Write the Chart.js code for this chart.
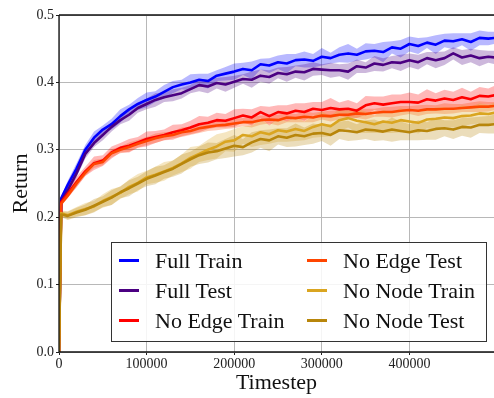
<!DOCTYPE html>
<html>
<head>
<meta charset="utf-8">
<script src="https://cdn.jsdelivr.net/npm/chart.js@4.4.0/dist/chart.umd.min.js"></script>
<style>
  html, body { margin: 0; padding: 0; background: #fff; }
  #wrap { position: relative; width: 494px; height: 398px; }
  #legend { position: absolute; left: 111px; top: 242px; width: 374px; height: 98px;
            border: 1px solid #333; background: rgba(255,255,255,0.85);
            font-family: "Liberation Serif", "Times New Roman", serif; font-size: 22px; color: #111; }
  .item { position: absolute; height: 26px; line-height: 26px; white-space: nowrap; }
  .swatch { position: absolute; top: 11px; width: 20px; height: 3px; }
  .lbl { position: absolute; top: 0; }
</style>
</head>
<body>
<div id="wrap">
  <canvas id="c" width="494" height="398"></canvas>
  <div id="legend"></div>
</div>
<script>
// ---------------- data ----------------
const timesteps = [0, 2500, 10000, 20000, 30000, 40000, 50000, 60000, 70000, 80000, 90000,
  100000, 110000, 120000, 130000, 140000, 150000, 160000, 170000, 180000, 190000,
  200000, 210000, 220000, 230000, 240000, 250000, 260000, 270000, 280000, 290000,
  300000, 310000, 320000, 330000, 340000, 350000, 360000, 370000, 380000, 390000,
  400000, 410000, 420000, 430000, 440000, 450000, 460000, 470000, 480000, 490000, 497000];

const seriesNames = ["Full Train", "Full Test", "No Edge Train", "No Edge Test", "No Node Train", "No Node Test"];
const seriesColors = ["#0000FF", "#4B0082", "#FF0000", "#FF4500", "#DAA520", "#B8860B"];

const fullTrain = [0, 0.228, 0.248, 0.272, 0.300, 0.318, 0.330, 0.338, 0.350, 0.360, 0.368,
  0.374, 0.379, 0.386, 0.393, 0.397, 0.400, 0.404, 0.402, 0.410, 0.413,
  0.416, 0.420, 0.418, 0.427, 0.425, 0.430, 0.428, 0.433, 0.434, 0.432,
  0.438, 0.436, 0.441, 0.443, 0.441, 0.446, 0.447, 0.445, 0.452, 0.450,
  0.457, 0.454, 0.459, 0.456, 0.462, 0.461, 0.464, 0.460, 0.466, 0.465, 0.466];
const fullTest = [0, 0.224, 0.240, 0.265, 0.294, 0.310, 0.322, 0.334, 0.344, 0.352, 0.362,
  0.368, 0.374, 0.378, 0.381, 0.384, 0.390, 0.396, 0.394, 0.399, 0.397,
  0.401, 0.405, 0.404, 0.410, 0.408, 0.414, 0.412, 0.416, 0.415, 0.420,
  0.419, 0.418, 0.418, 0.416, 0.424, 0.422, 0.428, 0.426, 0.430, 0.429,
  0.433, 0.430, 0.436, 0.433, 0.436, 0.443, 0.437, 0.440, 0.436, 0.438, 0.437];
const noEdgeTrain = [0, 0.222, 0.235, 0.252, 0.268, 0.280, 0.284, 0.296, 0.303, 0.306, 0.311,
  0.316, 0.319, 0.322, 0.326, 0.329, 0.333, 0.338, 0.340, 0.344, 0.343,
  0.347, 0.351, 0.348, 0.356, 0.350, 0.356, 0.354, 0.358, 0.356, 0.361,
  0.359, 0.362, 0.360, 0.361, 0.358, 0.366, 0.369, 0.367, 0.369, 0.371,
  0.371, 0.370, 0.375, 0.373, 0.376, 0.374, 0.378, 0.375, 0.380, 0.379, 0.381];
const noEdgeTest = [0, 0.220, 0.232, 0.250, 0.266, 0.279, 0.282, 0.295, 0.300, 0.304, 0.309,
  0.313, 0.317, 0.320, 0.322, 0.326, 0.328, 0.332, 0.334, 0.336, 0.337,
  0.339, 0.341, 0.341, 0.344, 0.345, 0.344, 0.348, 0.347, 0.349, 0.348,
  0.351, 0.350, 0.352, 0.352, 0.354, 0.353, 0.355, 0.356, 0.356, 0.358,
  0.359, 0.358, 0.360, 0.360, 0.361, 0.361, 0.362, 0.363, 0.364, 0.364, 0.365];
const noNodeTrain = [0, 0.206, 0.203, 0.208, 0.212, 0.216, 0.224, 0.230, 0.236, 0.245, 0.251,
  0.259, 0.263, 0.268, 0.273, 0.280, 0.288, 0.294, 0.300, 0.305, 0.312,
  0.314, 0.322, 0.320, 0.326, 0.323, 0.329, 0.327, 0.331, 0.328, 0.334,
  0.338, 0.335, 0.344, 0.347, 0.343, 0.341, 0.338, 0.342, 0.340, 0.344,
  0.342, 0.340, 0.345, 0.346, 0.348, 0.347, 0.350, 0.351, 0.354, 0.353, 0.355];
const noNodeTest = [0, 0.204, 0.202, 0.207, 0.211, 0.217, 0.223, 0.229, 0.237, 0.243, 0.250,
  0.257, 0.262, 0.267, 0.272, 0.279, 0.286, 0.292, 0.296, 0.298, 0.302,
  0.306, 0.304, 0.311, 0.316, 0.314, 0.320, 0.318, 0.322, 0.320, 0.324,
  0.325, 0.322, 0.329, 0.328, 0.326, 0.330, 0.329, 0.327, 0.330, 0.328,
  0.326, 0.329, 0.328, 0.331, 0.332, 0.330, 0.334, 0.333, 0.337, 0.337, 0.338];

// half-width of the shaded bands
const fullTrainSpread = [0, 0.003, 0.006, 0.008, 0.007, 0.009, 0.006, 0.008, 0.010, 0.007, 0.009,
  0.011, 0.008, 0.010, 0.009, 0.007, 0.012, 0.009, 0.011, 0.008, 0.010,
  0.012, 0.009, 0.013, 0.008, 0.011, 0.010, 0.014, 0.009, 0.012, 0.010,
  0.013, 0.008, 0.011, 0.014, 0.009, 0.012, 0.010, 0.015, 0.009, 0.013,
  0.011, 0.012, 0.008, 0.014, 0.010, 0.012, 0.009, 0.013, 0.011, 0.010, 0.009];
const fullTestSpread = [0, 0.003, 0.005, 0.006, 0.007, 0.006, 0.008, 0.007, 0.006, 0.009, 0.007,
  0.008, 0.010, 0.007, 0.009, 0.008, 0.006, 0.009, 0.010, 0.008, 0.011,
  0.009, 0.007, 0.012, 0.009, 0.010, 0.008, 0.011, 0.009, 0.012, 0.010,
  0.008, 0.011, 0.009, 0.012, 0.010, 0.008, 0.011, 0.010, 0.009, 0.012,
  0.010, 0.011, 0.009, 0.012, 0.010, 0.009, 0.011, 0.010, 0.012, 0.009, 0.010];
const noEdgeTrainSpread = [0, 0.004, 0.006, 0.008, 0.007, 0.010, 0.008, 0.009, 0.007, 0.010, 0.008,
  0.011, 0.009, 0.008, 0.011, 0.009, 0.010, 0.012, 0.009, 0.011, 0.010,
  0.013, 0.010, 0.012, 0.009, 0.014, 0.010, 0.012, 0.011, 0.013, 0.010,
  0.012, 0.015, 0.010, 0.013, 0.011, 0.014, 0.010, 0.012, 0.013, 0.011,
  0.014, 0.012, 0.015, 0.011, 0.013, 0.012, 0.014, 0.011, 0.013, 0.012, 0.014];
const noEdgeTestSpread = [0, 0.003, 0.004, 0.005, 0.005, 0.006, 0.005, 0.006, 0.005, 0.007, 0.006,
  0.006, 0.007, 0.006, 0.005, 0.007, 0.006, 0.007, 0.006, 0.007, 0.006,
  0.007, 0.006, 0.008, 0.007, 0.006, 0.008, 0.007, 0.006, 0.008, 0.007,
  0.006, 0.008, 0.007, 0.006, 0.007, 0.008, 0.006, 0.007, 0.008, 0.007,
  0.006, 0.008, 0.007, 0.006, 0.008, 0.007, 0.006, 0.007, 0.008, 0.007, 0.006];
const noNodeTrainSpread = [0, 0.004, 0.006, 0.007, 0.009, 0.008, 0.010, 0.012, 0.009, 0.011, 0.013,
  0.010, 0.012, 0.014, 0.011, 0.013, 0.016, 0.012, 0.015, 0.018, 0.014,
  0.017, 0.013, 0.016, 0.019, 0.014, 0.017, 0.015, 0.018, 0.014, 0.016,
  0.019, 0.015, 0.017, 0.014, 0.018, 0.016, 0.013, 0.017, 0.015, 0.018,
  0.014, 0.016, 0.013, 0.017, 0.015, 0.014, 0.016, 0.013, 0.015, 0.014, 0.015];
const noNodeTestSpread = [0, 0.004, 0.006, 0.007, 0.008, 0.010, 0.008, 0.011, 0.009, 0.012, 0.010,
  0.011, 0.013, 0.010, 0.012, 0.014, 0.011, 0.013, 0.015, 0.012, 0.014,
  0.016, 0.012, 0.015, 0.013, 0.016, 0.012, 0.014, 0.017, 0.013, 0.015,
  0.012, 0.016, 0.013, 0.015, 0.012, 0.014, 0.016, 0.013, 0.018, 0.014,
  0.012, 0.015, 0.013, 0.016, 0.012, 0.014, 0.013, 0.015, 0.012, 0.013, 0.014];

const xTicks = [0, 100000, 200000, 300000, 400000];
const yTicks = [0.0, 0.1, 0.2, 0.3, 0.4, 0.5];

const seriesValues = [fullTrain, fullTest, noEdgeTrain, noEdgeTest, noNodeTrain, noNodeTest];
const seriesSpreads = [fullTrainSpread, fullTestSpread, noEdgeTrainSpread, noEdgeTestSpread, noNodeTrainSpread, noNodeTestSpread];

// ---------------- build ----------------
function rgba(hex, a) {
  const n = parseInt(hex.slice(1), 16);
  return `rgba(${(n >> 16) & 255},${(n >> 8) & 255},${n & 255},${a})`;
}

const datasets = [];
seriesValues.forEach((vals, i) => {
  const sp = seriesSpreads[i];
  const up = timesteps.map((t, k) => ({ x: t, y: vals[k] + sp[k] }));
  const lo = timesteps.map((t, k) => ({ x: t, y: vals[k] - sp[k] }));
  datasets.push({ label: "_up" + i, data: up, borderWidth: 0, pointRadius: 0,
    backgroundColor: rgba(seriesColors[i], 0.28), fill: "+1", order: 50 - 2 * i });
  datasets.push({ label: "_lo" + i, data: lo, borderWidth: 0, pointRadius: 0,
    backgroundColor: "transparent", fill: false, order: 49 - 2 * i });
});
seriesValues.forEach((vals, i) => {
  datasets.push({ label: seriesNames[i], data: timesteps.map((t, k) => ({ x: t, y: vals[k] })),
    borderColor: seriesColors[i], borderWidth: 2.6, pointRadius: 0, fill: false,
    tension: 0, order: 20 - i, borderJoinStyle: "round" });
});

const serif = "'Liberation Serif', 'Times New Roman', serif";

const frame = {
  id: "frame",
  afterDatasetsDraw(chart) {
    const { ctx, chartArea: a } = chart;
    ctx.save();
    ctx.strokeStyle = "#111";
    ctx.lineWidth = 1.3;
    ctx.beginPath();
    ctx.moveTo(a.left, a.top);
    ctx.lineTo(a.right, a.top);
    ctx.moveTo(a.left, a.top);
    ctx.lineTo(a.left, a.bottom);
    ctx.lineTo(a.right, a.bottom);
    ctx.stroke();
    ctx.restore();
  }
};

new Chart(document.getElementById("c"), {
  type: "line",
  data: { datasets },
  plugins: [frame],
  options: {
    responsive: false,
    animation: false,
    layout: { padding: { top: 15, right: 0, bottom: 0, left: 0 } },
    plugins: { legend: { display: false }, tooltip: { enabled: false } },
    scales: {
      x: {
        type: "linear", min: 0, max: 496500,
        afterFit(s) { s.height = 46; },
        afterBuildTicks(s) { s.ticks = xTicks.map(v => ({ value: v })); },
        ticks: { includeBounds: false, color: "#222", font: { family: serif, size: 14 },
          padding: 1, maxRotation: 0, callback: v => String(v) },
        grid: { color: "#b8b8b8", lineWidth: 1, tickLength: 3, tickColor: "#222" },
        border: { display: false },
        title: { display: true, text: "Timestep", color: "#111",
          font: { family: serif, size: 22 }, padding: { top: 0, bottom: 2 } }
      },
      y: {
        min: 0, max: 0.5,
        afterFit(s) { s.width = 59; },
        afterBuildTicks(s) { s.ticks = yTicks.map(v => ({ value: v })); },
        ticks: { color: "#222", font: { family: serif, size: 14 }, padding: 2,
          callback: v => Number(v).toFixed(1) },
        grid: { color: "#b8b8b8", lineWidth: 1, tickLength: 3, tickColor: "#222" },
        border: { display: false },
        title: { display: true, text: "Return", color: "#111",
          font: { family: serif, size: 22 }, padding: { top: 8, bottom: 0 } }
      }
    }
  }
});

// ---------------- legend (HTML text) ----------------
const legend = document.getElementById("legend");
const rowTops = [5, 35, 65];
const colSwatch = [7, 195];
const colText = [43, 231];
seriesNames.forEach((name, i) => {
  const col = Math.floor(i / 3), row = i % 3;
  const it = document.createElement("div");
  it.className = "item";
  it.style.left = "0px";
  it.style.top = rowTops[row] + "px";
  const sw = document.createElement("div");
  sw.className = "swatch";
  sw.style.left = colSwatch[col] + "px";
  sw.style.background = seriesColors[i];
  const tx = document.createElement("div");
  tx.className = "lbl";
  tx.style.left = colText[col] + "px";
  tx.textContent = name;
  it.appendChild(sw);
  it.appendChild(tx);
  legend.appendChild(it);
});
</script>
</body>
</html>
